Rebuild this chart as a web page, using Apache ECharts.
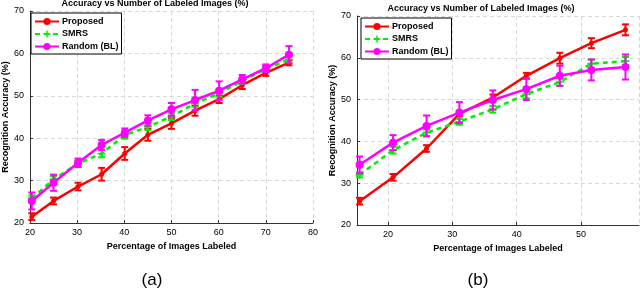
<!DOCTYPE html>
<html><head><meta charset="utf-8">
<script src="https://cdn.jsdelivr.net/npm/echarts@6/dist/echarts.min.js"></script>
<style>html,body{margin:0;padding:0;background:#fff}#c{width:640px;height:293px}</style>
</head><body><div id="c"></div>
<script>
// ---- Data: panel (a) ----
const xA = [20.4, 25, 30.2, 35.2, 40.1, 45, 50, 55, 60.1, 65, 70, 74.9];
const propA = [21.5, 25.2, 28.6, 31.5, 36.4, 40.8, 43.5, 46.5, 49.2, 52.5, 55.4, 57.8];
const propAErr = [0.8, 0.8, 0.9, 1.5, 1.5, 1.4, 1.3, 1.2, 0.9, 0.9, 0.7, 0.6];
const smrsA = [25.8, 30.3, 34.0, 36.4, 40.7, 42.7, 45.1, 48.2, 50.6, 53.5, 56.3, 58.6];
const smrsAErr = [0.7, 0.8, 0.7, 0.9, 0.8, 0.8, 0.8, 0.8, 0.8, 0.7, 0.7, 0.8];
const randA = [25.2, 29.5, 34.2, 38.4, 41.3, 44.2, 46.8, 49.0, 51.2, 53.9, 56.5, 59.7];
const randAErr = [2.0, 1.9, 1.0, 1.2, 1.0, 1.2, 1.5, 2.4, 2.2, 1.0, 0.9, 2.0];
// ---- Data: panel (b) ----
const xB = [15.6, 20.8, 26.0, 31.1, 36.3, 41.5, 46.7, 51.6, 56.9];
const propB = [25.7, 31.4, 38.3, 46.6, 50.5, 55.7, 59.9, 63.5, 66.7];
const propBErr = [0.8, 0.8, 0.8, 0.6, 0.7, 0.7, 1.3, 1.2, 1.3];
const smrsB = [32.0, 37.9, 42.1, 44.7, 47.7, 51.3, 54.2, 58.6, 59.2];
const smrsBErr = [0.6, 0.8, 0.8, 0.7, 0.8, 1.0, 0.9, 1.0, 1.0];
const randB = [34.4, 39.7, 43.7, 46.9, 49.9, 52.5, 55.7, 57.1, 57.8];
const randBErr = [2.0, 1.8, 2.5, 2.5, 2.3, 2.6, 2.4, 2.5, 3.0];
// ---- Text ----
const seriesNames = ['Proposed', 'SMRS', 'Random (BL)'];
const chartTitle = 'Accuracy vs Number of Labeled Images (%)';
const xName = 'Percentage of Images Labeled';
const yName = 'Recognition Accuracy (%)';
const panelLabels = ['(a)', '(b)'];

const FONT = '"Liberation Sans", Arial, Helvetica, sans-serif';
const RED = '#ff0000', GREEN = '#00ee00', MAG = '#ff00ff';
const plusPath = 'path://M4,0h2v4h4v2h-4v4h-2v-4h-4v-2h4z';

function pairs(xs, ys) { return xs.map((x, i) => [x, ys[i]]); }
function errData(xs, ys, es) { return xs.map((x, i) => [x, ys[i] - es[i], ys[i] + es[i]]); }

function errSeries(idx, xs, ys, es, color, z) {
  return {
    type: 'custom', name: 'err' + idx + color, xAxisIndex: idx, yAxisIndex: idx, z: z,
    data: errData(xs, ys, es), encode: { x: 0, y: [1, 2] }, silent: true,
    renderItem: function (params, api) {
      const x = api.value(0), lo = api.value(1), hi = api.value(2);
      const p1 = api.coord([x, lo]), p2 = api.coord([x, hi]);
      const w = 3.5;
      const st = { stroke: color, lineWidth: 2 };
      return { type: 'group', children: [
        { type: 'line', shape: { x1: p1[0], y1: p1[1], x2: p2[0], y2: p2[1] }, style: st },
        { type: 'line', shape: { x1: p1[0] - w, y1: p1[1], x2: p1[0] + w, y2: p1[1] }, style: st },
        { type: 'line', shape: { x1: p2[0] - w, y1: p2[1], x2: p2[0] + w, y2: p2[1] }, style: st }
      ]};
    }
  };
}

function lineSeries(idx, name, xs, ys, color, symbol, size, dashed, z) {
  return {
    type: 'line', name: name, xAxisIndex: idx, yAxisIndex: idx, z: z,
    data: pairs(xs, ys), symbol: symbol, symbolSize: size, showAllSymbol: true,
    lineStyle: { color: color, width: 2.5, type: dashed ? [5, 4] : 'solid' },
    itemStyle: { color: color, borderWidth: 0 },
    animation: false
  };
}

function yAxisCfg(idx, gap) {
  return {
    type: 'value', gridIndex: idx, min: 20, max: 70, interval: 10,
    name: yName, nameLocation: 'middle', nameGap: gap,
    nameTextStyle: { fontSize: 9, fontWeight: 'bold', fontFamily: FONT, color: '#000' },
    axisLine: { show: true, lineStyle: { color: '#333', width: 1 } },
    axisTick: { show: true, inside: true, length: 3, lineStyle: { color: '#333' } },
    axisLabel: { fontSize: 9, fontFamily: FONT, color: '#000', margin: 6 },
    splitLine: { show: true, lineStyle: { color: '#d8d8d8', type: [4, 3], width: 1 } }
  };
}

const chart = echarts.init(document.getElementById('c'), null, { renderer: 'canvas' });
const legendBase = {
  orient: 'vertical', data: seriesNames, itemWidth: 24, itemHeight: 9, itemGap: 3.5,
  padding: [4, 3, 3, 3], borderColor: '#000', borderWidth: 1, backgroundColor: '#fff',
  textStyle: { fontSize: 9, fontWeight: 'bold', fontFamily: FONT, color: '#000', padding: [0, 0, 0, -2] },
  selectedMode: false
};

chart.setOption({
  animation: false,
  backgroundColor: '#fff',
  grid: [
    { left: 28, right: 327, top: 11, bottom: 70 },
    { left: 357, right: 1, top: 16, bottom: 68 }
  ],
  xAxis: [
    {
      type: 'value', gridIndex: 0, min: 20, max: 80, interval: 10,
      name: xName, nameLocation: 'middle', nameGap: 18,
      nameTextStyle: { fontSize: 9, fontWeight: 'bold', fontFamily: FONT, color: '#000' },
      axisLine: { show: true, onZero: false, lineStyle: { color: '#333', width: 1 } },
      axisTick: { show: true, inside: true, length: 3, lineStyle: { color: '#333' } },
      axisLabel: { fontSize: 9, fontFamily: FONT, color: '#000', margin: 5 },
      splitLine: { show: true, lineStyle: { color: '#d8d8d8', type: [4, 3], width: 1 } }
    },
    {
      type: 'value', gridIndex: 1, min: 15.2, max: 59, splitNumber: 4,
      name: xName, nameLocation: 'middle', nameGap: 19,
      nameTextStyle: { fontSize: 9, fontWeight: 'bold', fontFamily: FONT, color: '#000' },
      axisLine: { show: true, onZero: false, lineStyle: { color: '#333', width: 1 } },
      axisTick: { show: true, inside: true, length: 3, lineStyle: { color: '#333' } },
      axisLabel: { fontSize: 9, fontFamily: FONT, color: '#000', margin: 5, showMinLabel: false, showMaxLabel: false },
      splitLine: { show: true, lineStyle: { color: '#d8d8d8', type: [4, 3], width: 1 } }
    }
  ],
  yAxis: [ yAxisCfg(0, 17), yAxisCfg(1, 18) ],
  legend: [
    Object.assign({}, legendBase, { left: 31, top: 13 }),
    Object.assign({}, legendBase, { left: 361, top: 18 })
  ],
  graphic: [
    { type: 'text', x: 155, y: 4, style: { text: chartTitle, fontSize: 9, fontWeight: 'bold', fontFamily: FONT, fill: '#000', textAlign: 'center', textVerticalAlign: 'middle' } },
    { type: 'text', x: 481, y: 9, style: { text: chartTitle, fontSize: 9, fontWeight: 'bold', fontFamily: FONT, fill: '#000', textAlign: 'center', textVerticalAlign: 'middle' } },
    { type: 'text', x: 152, y: 280, style: { text: panelLabels[0], fontSize: 17, fontFamily: FONT, fill: '#000', textAlign: 'center', textVerticalAlign: 'middle' } },
    { type: 'text', x: 478, y: 280, style: { text: panelLabels[1], fontSize: 17, fontFamily: FONT, fill: '#000', textAlign: 'center', textVerticalAlign: 'middle' } }
  ],
  series: [
    errSeries(0, xA, propA, propAErr, RED, 3),
    lineSeries(0, seriesNames[0], xA, propA, RED, 'circle', 5, false, 4),
    errSeries(0, xA, smrsA, smrsAErr, GREEN, 5),
    lineSeries(0, seriesNames[1], xA, smrsA, GREEN, plusPath, 8, true, 6),
    errSeries(0, xA, randA, randAErr, MAG, 7),
    lineSeries(0, seriesNames[2], xA, randA, MAG, 'circle', 8, false, 8),
    errSeries(1, xB, propB, propBErr, RED, 3),
    lineSeries(1, seriesNames[0], xB, propB, RED, 'circle', 5, false, 4),
    errSeries(1, xB, smrsB, smrsBErr, GREEN, 5),
    lineSeries(1, seriesNames[1], xB, smrsB, GREEN, plusPath, 8, true, 6),
    errSeries(1, xB, randB, randBErr, MAG, 7),
    lineSeries(1, seriesNames[2], xB, randB, MAG, 'circle', 8, false, 8)
  ]
});
</script>
</body></html>
